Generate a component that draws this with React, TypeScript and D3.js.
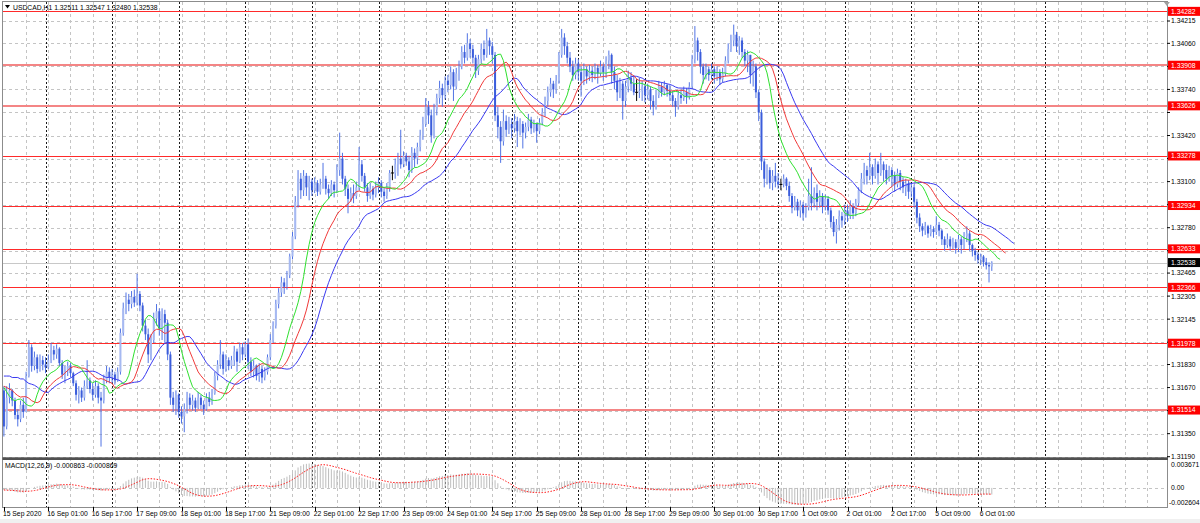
// @ts-nocheck
import React from "react";
import * as d3 from "d3";

const W = 1200;
const H = 523;

// bar values are pips above 1.30000: [high, low, close]; open = previous close
const BASE = 1.3;
const firstOpen = 165;

const sep15 = [[168,133,140],[168,138,160],[170,156,165],[166,154,158],[160,145,148],[152,140,145],[158,143,155],[160,146,150],[178,150,175],[200,174,195],[197,178,182],[192,179,188],[190,177,180],[190,178,186],[189,179,183]];
const sep16 = [[188,177,181],[190,180,186],[198,184,193],[196,186,190],[197,187,194],[195,182,184],[186,173,176],[182,170,179],[185,175,182],[184,174,177],[178,168,170],[172,158,162],[168,156,165],[167,157,160],[172,158,168],[186,166,172],[174,163,166],[170,158,162],[172,160,168],[170,156,160],[164,126,158],[176,156,172],[182,170,178],[181,170,174]];
const sep17 = [[180,170,176],[178,169,172],[181,171,178],[208,176,205],[226,203,222],[233,218,228],[232,220,225],[234,222,230],[235,223,226],[246,224,232],[234,220,224],[226,206,210],[214,200,204],[208,184,190],[204,186,200],[219,198,215],[225,210,220],[222,203,208],[222,200,218],[221,198,212],[214,186,190],[192,155,160],[164,150,155],[165,148,162]];
const sep18 = [[163,146,150],[154,142,147],[156,136,152],[164,149,160],[163,152,155],[162,151,158],[160,150,153],[164,152,160],[162,152,155],[158,148,152],[163,151,160],[164,154,157],[166,155,163],[178,162,175],[186,172,183],[200,180,190],[192,176,180],[190,178,186],[188,179,182],[189,180,186],[196,182,192],[194,178,185],[198,184,195],[198,186,190]];
const sep21 = [[199,188,197],[201,180,185],[188,175,178],[186,174,182],[183,172,175],[184,171,180],[182,170,174],[181,172,178],[190,176,188],[204,186,200],[213,198,210],[228,208,225],[236,222,233],[244,230,240],[243,232,237],[248,235,245],[260,243,258],[275,256,272],[300,270,296],[318,292,312],[316,298,304],[318,300,314],[316,300,306],[314,297,310]];
const sep22 = [[312,300,304],[313,302,309],[311,300,303],[312,301,308],[323,305,312],[314,301,305],[308,298,302],[311,300,308],[310,299,304],[322,302,318],[344,314,326],[330,308,312],[314,300,305],[308,288,298],[306,296,302],[308,295,300],[310,298,306],[334,304,322],[325,310,314],[316,303,306],[309,296,300],[309,298,305],[307,297,301],[310,299,306]];
const sep23 = [[313,302,309],[311,299,303],[306,296,300],[309,298,306],[318,303,316],[321,311,316],[326,312,322],[330,314,326],[346,319,322],[331,320,328],[330,321,324],[328,313,318],[334,316,330],[333,320,326],[337,322,334],[346,331,342],[355,339,350],[368,348,362],[366,350,356],[360,337,342],[364,340,360],[371,356,368],[380,364,375],[378,362,370]];
const sep24 = [[383,367,380],[384,372,377],[390,374,386],[388,366,376],[389,374,385],[394,380,390],[404,388,400],[405,392,396],[413,394,406],[409,396,402],[405,392,396],[398,382,387],[398,384,395],[406,392,402],[408,394,398],[416,396,408],[410,398,404],[407,392,398],[400,352,356],[362,340,348],[352,323,338],[360,335,352],[356,341,346],[355,343,350]];
const sep25 = [[354,340,347],[357,344,352],[355,334,345],[354,342,350],[352,333,344],[351,340,348],[357,345,353],[355,343,347],[353,344,350],[351,337,345],[354,343,351],[361,349,358],[369,355,366],[376,362,372],[382,369,378],[380,368,374],[384,371,380],[400,378,398],[416,396,410],[413,398,404],[407,392,396],[400,386,390],[394,380,384],[396,381,392]];
const sep28 = [[395,380,386],[390,369,380],[392,377,388],[390,378,383],[391,380,387],[390,379,384],[392,381,389],[391,378,385],[394,383,390],[392,380,386],[397,382,394],[401,388,398],[399,378,386],[390,374,380],[384,366,372],[382,368,378],[380,353,366],[380,362,376],[387,372,382],[386,373,378],[384,370,372],[381,366,372],[382,368,373],[380,366,376]];
const sep29 = [[378,365,370],[378,367,374],[376,360,366],[370,356,362],[374,360,370],[380,368,376],[379,369,372],[380,370,377],[378,369,373],[377,366,370],[373,362,366],[368,355,362],[373,360,370],[374,364,368],[376,366,372],[375,364,369],[379,367,376],[398,374,395],[418,392,408],[410,394,400],[402,385,390],[392,378,384],[392,381,388],[390,380,384]];
const sep30 = [[392,381,388],[390,378,383],[390,380,386],[388,377,381],[389,379,385],[397,383,394],[406,392,402],[412,400,408],[419,404,412],[414,400,404],[411,398,408],[410,396,400],[402,390,394],[401,386,398],[398,378,384],[394,376,390],[392,368,372],[374,352,358],[360,318,324],[326,306,312],[322,308,318],[320,305,309],[318,304,314],[323,306,310]];
const oct01 = [[316,305,308],[312,304,308],[315,306,312],[313,304,307],[310,296,300],[302,288,292],[300,290,296],[298,286,290],[297,285,294],[296,283,288],[295,285,292],[312,290,300],[320,290,295],[306,292,302],[308,290,296],[304,292,300],[302,288,293],[301,290,298],[300,287,290],[292,278,282],[286,272,275],[284,267,280],[290,276,286],[289,278,283]];
const oct02 = [[294,280,290],[294,282,286],[297,284,293],[295,284,288],[298,286,295],[306,293,304],[316,302,312],[323,308,318],[321,308,314],[330,311,320],[322,308,314],[326,312,322],[324,308,316],[330,314,322],[324,310,318],[322,308,312],[321,310,318],[320,306,314],[317,303,308],[319,306,316],[318,304,310],[313,302,306],[312,300,309],[311,298,303]];
const oct05 = [[309,299,306],[308,292,296],[298,281,285],[288,275,279],[281,272,276],[282,273,279],[280,271,274],[280,272,277],[279,271,275],[286,273,280],[282,272,276],[277,266,270],[272,262,266],[274,264,270],[272,262,265],[271,263,268],[270,260,264],[273,261,270],[272,260,266],[275,263,272],[279,268,274],[276,262,266],[267,258,262],[264,255,259]];
const oct06 = [[261,253,256],[260,252,258],[259,251,254],[257,249,252],[254,240,251.1],[254.7,248.0,253.8]];

const sessions = [
  { day: 15, mon: "Sep", start: 9, bars: sep15 },
  { day: 16, mon: "Sep", start: 0, bars: sep16 },
  { day: 17, mon: "Sep", start: 0, bars: sep17 },
  { day: 18, mon: "Sep", start: 0, bars: sep18 },
  { day: 21, mon: "Sep", start: 0, bars: sep21 },
  { day: 22, mon: "Sep", start: 0, bars: sep22 },
  { day: 23, mon: "Sep", start: 0, bars: sep23 },
  { day: 24, mon: "Sep", start: 0, bars: sep24 },
  { day: 25, mon: "Sep", start: 0, bars: sep25 },
  { day: 28, mon: "Sep", start: 0, bars: sep28 },
  { day: 29, mon: "Sep", start: 0, bars: sep29 },
  { day: 30, mon: "Sep", start: 0, bars: sep30 },
  { day: 1, mon: "Oct", start: 0, bars: oct01 },
  { day: 2, mon: "Oct", start: 0, bars: oct02 },
  { day: 5, mon: "Oct", start: 0, bars: oct05 },
  { day: 6, mon: "Oct", start: 0, bars: oct06 },
];

const priceTicks = ["1.34215","1.34060","1.33900","1.33740","1.33580","1.33420","1.33260","1.33100","1.32940","1.32780","1.32620","1.32465","1.32305","1.32145","1.31985","1.31830","1.31670","1.31510","1.31350","1.31190"];
const levelLines = [1.34282, 1.33908, 1.33626, 1.33278, 1.32934, 1.32633, 1.32366, 1.31978, 1.31514];
const heavyLevels = [1.33908, 1.33626, 1.31514];
const currentPrice = 1.32538;

const macdRange = [-0.002604, 0.003671];
const macdTicks = ["0.003671", "0.00", "-0.002604"];
const macdReadout = ["-0.000863", "-0.000869"];

// alligator values left of the first bar (shifted lines), pips
const jawLead = [175, 175, 175, 174, 174, 174, 173, 173];
const teethLead = [168, 167, 166, 165, 163];
const lipsLead = [167, 164, 161];

const px = (v) => BASE + v / 10000;

const bars = [];
{
  let prev = firstOpen;
  sessions.forEach((s) =>
    s.bars.forEach((b, j) => {
      bars.push({ i: bars.length, day: s.day, mon: s.mon, hour: s.start + j, o: prev, h: b[0], l: b[1], c: b[2] });
      prev = b[2];
    })
  );
}

function smmaLine(lead, n, shift) {
  const pts = lead.map((v, k) => [k, v]);
  let v = lead[lead.length - 1];
  bars.forEach((b) => {
    v = (v * (n - 1) + (b.h + b.l) / 2) / n;
    pts.push([b.i + shift, v]);
  });
  return pts;
}

const App = () => {
  const plotL = 2.5, plotR = 1167;
  const mainTop = 2, mainBottom = 458;
  const macdTop = 461, macdBottom = 507;

  const x = d3.scaleLinear().domain([0, 1]).range([3.9, 3.9 + 2.775]);
  const y = d3.scaleLinear().domain([1.31181, 1.34347]).range([mainBottom, mainTop]);
  const ym = d3.scaleLinear().domain(macdRange).range([macdBottom, macdTop]);

  const jaw = smmaLine(jawLead, 13, 8);
  const teeth = smmaLine(teethLead, 8, 5);
  const lips = smmaLine(lipsLead, 5, 3);
  const maLine = d3.line().x((d) => x(d[0])).y((d) => y(px(d[1])));

  let e12 = jawLead[0], e26 = jawLead[0];
  const macd = bars.map((b) => {
    e12 += (b.c - e12) * 2 / 13;
    e26 += (b.c - e26) * 2 / 27;
    return (e12 - e26) / 10000;
  });
  const signal = macd.map((_, i) => d3.mean(macd.slice(Math.max(0, i - 8), i + 1)));
  const sigLine = d3.line().x((d, i) => x(i)).y((d) => ym(d));

  const gridBars = bars.filter((b) => b.i > 0 && b.i % 8 === 0);
  const daySeps = bars.filter((b) => b.hour === 0);
  const timeLabels = bars.filter((b) => b.i % 16 === 0);
  const pad = (n) => (n < 10 ? "0" + n : "" + n);
  const last = bars[bars.length - 1];
  const font = "'Liberation Sans', Arial, sans-serif";
  const fs = 6.8;

  // tick labels that sit under a level tag are hidden, as on the terminal
  const tagYs = levelLines.concat([currentPrice]).map((v) => y(v));
  const tickVisible = (t) => tagYs.every((ty) => Math.abs(ty - y(+t)) > 7.5);

  const bullFill = "#a6b9f1";
  const bearFill = "#3b5ddb";
  const wick = "#5073e4";

  return (
    <div>
      <style>{"body{margin:0}"}</style>
      <svg width={W} height={H} style={{ display: "block", background: "#fff" }} fontFamily={font}>
        <defs>
          <clipPath id="mainClip"><rect x={plotL} y={mainTop} width={plotR - plotL} height={mainBottom - mainTop} /></clipPath>
          <clipPath id="macdClip"><rect x={plotL} y={macdTop} width={plotR - plotL} height={macdBottom - macdTop} /></clipPath>
        </defs>
        <rect x={0} y={519} width={W} height={H - 519} fill="#f0f0f0" />

        {/* grid */}
        <g stroke="#c4c4c4" strokeDasharray="3,3" shapeRendering="crispEdges">
          {priceTicks.map((t) => (
            <line key={t} x1={plotL} x2={plotR} y1={Math.round(y(+t)) + 0.5} y2={Math.round(y(+t)) + 0.5} />
          ))}
          <line x1={plotL} x2={plotR} y1={Math.round(ym(0)) + 0.5} y2={Math.round(ym(0)) + 0.5} />
          {gridBars.map((b) => (
            <line key={b.i} x1={Math.round(x(b.i)) + 0.5} x2={Math.round(x(b.i)) + 0.5} y1={mainTop} y2={macdBottom} />
          ))}
          {d3.range(last.i + 8, 420, 8).map((i) => (
            <line key={"f" + i} x1={Math.round(x(i)) + 0.5} x2={Math.round(x(i)) + 0.5} y1={mainTop} y2={macdBottom} />
          ))}
        </g>
        <g stroke="#1a1a1a" strokeDasharray="2,2" shapeRendering="crispEdges">
          {daySeps.map((b) => (
            <line key={b.i} x1={Math.round(x(b.i)) + 0.5} x2={Math.round(x(b.i)) + 0.5} y1={mainTop} y2={macdBottom} />
          ))}
          <line x1={Math.round(x(last.i + 19)) + 0.5} x2={Math.round(x(last.i + 19)) + 0.5} y1={mainTop} y2={macdBottom} />
        </g>

        {/* levels */}
        <g shapeRendering="crispEdges">
          {levelLines.map((v) => {
            const heavy = heavyLevels.includes(v);
            const yy = Math.round(y(v));
            return heavy ? (
              <rect key={v} x={plotL} y={yy - 1} width={plotR - plotL} height={2} fill="#f48585" />
            ) : (
              <line key={v} x1={plotL} x2={plotR} y1={yy + 0.5} y2={yy + 0.5} stroke="#ff2a2a" />
            );
          })}
          <line x1={plotL} x2={plotR} y1={Math.round(y(currentPrice)) + 0.5} y2={Math.round(y(currentPrice)) + 0.5} stroke="#c8c8c8" />
        </g>

        {/* candles */}
        <g clipPath="url(#mainClip)">
          {bars.map((b) => {
            const cx = x(b.i);
            const doji = b.o === b.c;
            const top = y(px(Math.max(b.o, b.c)));
            const bot = y(px(Math.min(b.o, b.c)));
            return (
              <g key={b.i}>
                <line x1={cx} x2={cx} y1={y(px(b.h))} y2={y(px(b.l))} stroke={doji ? "#000" : wick} strokeWidth={1} />
                {doji ? (
                  <line x1={cx - 1.5} x2={cx + 1.5} y1={top} y2={top} stroke="#000" />
                ) : (
                  <rect x={cx - 1} y={top} width={2} height={Math.max(1, bot - top)} fill={b.c > b.o ? bullFill : bearFill} />
                )}
              </g>
            );
          })}
          <path d={maLine(jaw)} fill="none" stroke="#3a3af0" strokeWidth={1} />
          <path d={maLine(teeth)} fill="none" stroke="#f03a3a" strokeWidth={1} />
          <path d={maLine(lips)} fill="none" stroke="#2fe02f" strokeWidth={1} />
        </g>

        {/* MACD */}
        <g clipPath="url(#macdClip)">
          {macd.map((m, i) => (
            <line key={i} x1={x(i)} x2={x(i)} y1={ym(0)} y2={ym(m)} stroke="#bdbdbd" strokeWidth={1} />
          ))}
          <path d={sigLine(signal)} fill="none" stroke="#ff1a1a" strokeWidth={1} strokeDasharray="1.5,1.5" />
        </g>

        {/* frames */}
        <rect x={plotL} y={1.5} width={plotR - plotL} height={macdBottom - 1.5} fill="none" stroke="#8c8c8c" shapeRendering="crispEdges" />
        <rect x={plotL} y={457.3} width={plotR - plotL + 1} height={2.7} fill="#505050" />
        <path d={`M${x(418)},${mainTop} l3,4 l3,-4 z`} fill="#a0a0a0" />

        {/* price axis */}
        <g fontSize={fs} fill="#000">
          {priceTicks.map((t) => (
            <g key={t}>
              <line x1={plotR} x2={plotR + 3} y1={y(+t)} y2={y(+t)} stroke="#000" />
              {tickVisible(t) && <text x={plotR + 4} y={y(+t) + 2.4}>{t}</text>}
            </g>
          ))}
        </g>
        <g fontSize={fs}>
          {levelLines.map((v) => (
            <g key={v}>
              <rect x={plotR + 1} y={y(v) - 4.5} width={W - plotR} height={9} fill="#ff0000" />
              <text x={plotR + 4} y={y(v) + 2.4} fill="#fff">{v.toFixed(5)}</text>
            </g>
          ))}
          <rect x={plotR + 1} y={y(currentPrice) - 4.5} width={W - plotR} height={9} fill="#000" />
          <text x={plotR + 4} y={y(currentPrice) + 2.4} fill="#fff">{currentPrice.toFixed(5)}</text>
        </g>

        {/* macd axis */}
        <g fontSize={fs} fill="#000">
          {macdTicks.map((t, k) => {
            const yy = k === 0 ? macdTop + 4 : k === 1 ? ym(0) : macdBottom - 4.5;
            return (
              <text key={t} x={t.startsWith("-") ? plotR + 2 : plotR + 4} y={yy + 2.4}>{t}</text>
            );
          })}
        </g>

        {/* time axis */}
        <g fontSize={fs} fill="#000">
          {timeLabels.map((b) => (
            <g key={b.i}>
              <line x1={Math.round(x(b.i)) + 0.5} x2={Math.round(x(b.i)) + 0.5} y1={macdBottom} y2={macdBottom + 4} stroke="#000" />
              <text x={x(b.i) - 1} y={515.5}>
                {b.i === 0 ? `${b.day} ${b.mon} 2020` : `${b.day} ${b.mon} ${pad(b.hour)}:00`}
              </text>
            </g>
          ))}
        </g>

        {/* readouts */}
        <path d="M5,5 l5,0 l-2.5,3.5 z" fill="#000" />
        <text x={13} y={10} fontSize={fs} fill="#000">
          {`USDCAD,H1  ${px(last.o).toFixed(5)} ${px(last.h).toFixed(5)} ${px(last.l).toFixed(5)} ${px(last.c).toFixed(5)}`}
        </text>
        <text x={5} y={468} fontSize={fs} fill="#000">{`MACD(12,26,9) ${macdReadout[0]} ${macdReadout[1]}`}</text>
      </svg>
    </div>
  );
};

export default App;
